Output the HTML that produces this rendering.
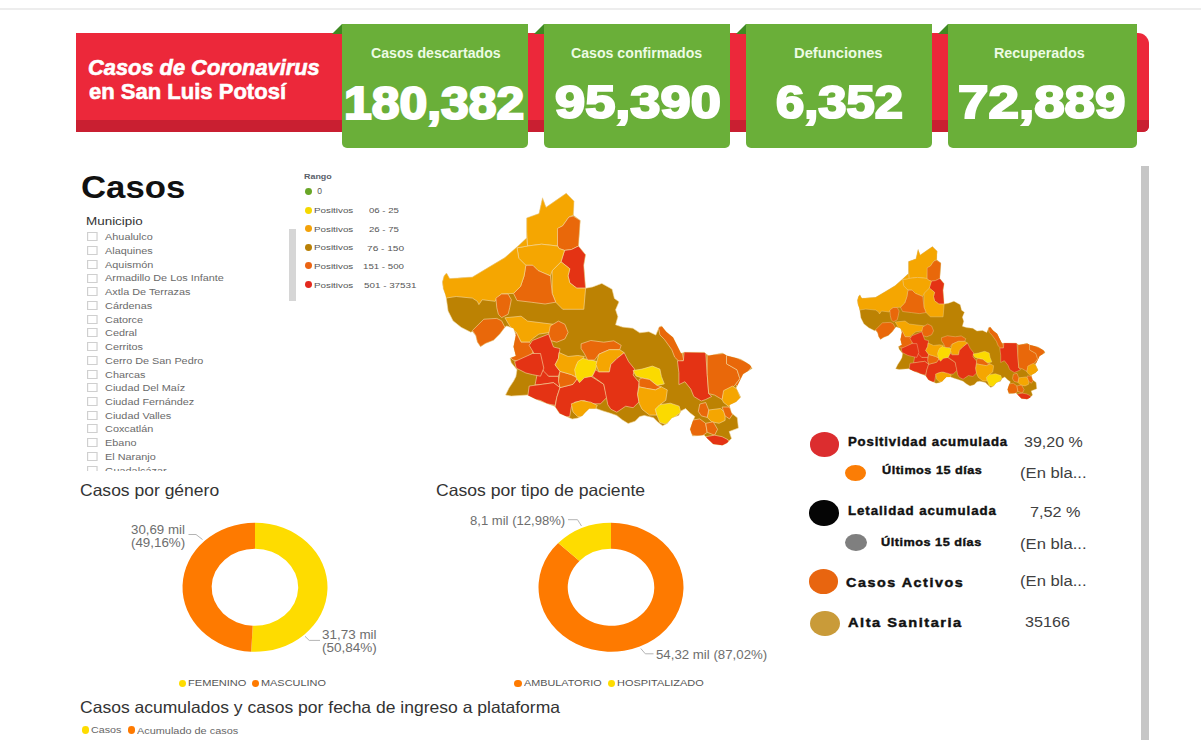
<!DOCTYPE html>
<html><head><meta charset="utf-8">
<style>
*{margin:0;padding:0;box-sizing:border-box}
html,body{width:1201px;height:740px;overflow:hidden;background:#fff;font-family:"Liberation Sans",sans-serif}
.a{position:absolute}
.t{position:absolute;white-space:nowrap;line-height:1;transform-origin:0 0}
#topline{left:0;top:8px;width:1201px;height:2px;background:#ededed}
#banner{left:76px;top:33px;width:1073px;height:99px;background:#ec283a;border-radius:0 11px 6px 0;overflow:hidden}
#banner .stripe{position:absolute;left:0;bottom:0;width:100%;height:12px;background:#c91f31}
.gb{position:absolute;top:24px;height:124px;background:#6aaf39;border-radius:0 0 5px 5px}
.fold{position:absolute;top:24px;width:0;height:0;border-style:solid;border-width:0 0 10px 10px;border-color:transparent transparent #3f8a22 transparent}
#list{position:absolute;left:86.9px;top:229px;width:170px;height:241.5px;overflow:hidden}
#list .in{position:absolute;left:0;top:0;width:170px;height:400px;transform:scaleX(1.180);transform-origin:0 0}
.cb{position:absolute;left:0;width:9px;height:9px;border:1px solid #cfcfcf;background:#fff}
.li{position:absolute;font-size:9.2px;line-height:1;color:#6a6a6a;white-space:nowrap}
.sb1{left:288.5px;top:229px;width:7px;height:72px;background:#d6d6d6}
.sb2{left:1141px;top:166px;width:8px;height:574px;background:#c6c6c6}
.dot{position:absolute;width:7.4px;height:7.2px;border-radius:50%}
.ell{position:absolute;border-radius:50%}
</style></head>
<body>
<div class="a" id="topline"></div>
<div class="a" id="banner"><div class="stripe"></div></div>
<div class="fold" style="left:332px"></div><div class="fold" style="left:534px"></div><div class="fold" style="left:736px"></div><div class="fold" style="left:938px"></div>
<div class="gb" style="left:342px;width:186px"></div><div class="gb" style="left:544px;width:186px"></div><div class="gb" style="left:746px;width:186px"></div><div class="gb" style="left:948px;width:189px"></div>
<div id="list"><div class="in"><div class="cb" style="top:3.40px"></div><div class="li" style="top:4.30px;left:15.34px">Ahualulco</div><div class="cb" style="top:17.12px"></div><div class="li" style="top:18.02px;left:15.34px">Alaquines</div><div class="cb" style="top:30.84px"></div><div class="li" style="top:31.74px;left:15.34px">Aquismón</div><div class="cb" style="top:44.56px"></div><div class="li" style="top:45.46px;left:15.34px">Armadillo De Los Infante</div><div class="cb" style="top:58.28px"></div><div class="li" style="top:59.18px;left:15.34px">Axtla De Terrazas</div><div class="cb" style="top:72.00px"></div><div class="li" style="top:72.90px;left:15.34px">Cárdenas</div><div class="cb" style="top:85.72px"></div><div class="li" style="top:86.62px;left:15.34px">Catorce</div><div class="cb" style="top:99.44px"></div><div class="li" style="top:100.34px;left:15.34px">Cedral</div><div class="cb" style="top:113.16px"></div><div class="li" style="top:114.06px;left:15.34px">Cerritos</div><div class="cb" style="top:126.88px"></div><div class="li" style="top:127.78px;left:15.34px">Cerro De San Pedro</div><div class="cb" style="top:140.60px"></div><div class="li" style="top:141.50px;left:15.34px">Charcas</div><div class="cb" style="top:154.32px"></div><div class="li" style="top:155.22px;left:15.34px">Ciudad Del Maíz</div><div class="cb" style="top:168.04px"></div><div class="li" style="top:168.94px;left:15.34px">Ciudad Fernández</div><div class="cb" style="top:181.76px"></div><div class="li" style="top:182.66px;left:15.34px">Ciudad Valles</div><div class="cb" style="top:195.48px"></div><div class="li" style="top:196.38px;left:15.34px">Coxcatlán</div><div class="cb" style="top:209.20px"></div><div class="li" style="top:210.10px;left:15.34px">Ebano</div><div class="cb" style="top:222.92px"></div><div class="li" style="top:223.82px;left:15.34px">El Naranjo</div><div class="cb" style="top:236.64px"></div><div class="li" style="top:237.54px;left:15.34px">Guadalcázar</div><div class="cb" style="top:250.36px"></div><div class="li" style="top:251.26px;left:15.34px">Huehuetlán</div></div></div>
<div class="a sb1"></div>
<div class="a sb2"></div>
<svg class="a" style="left:0;top:0" width="1201" height="740" viewBox="0 0 1201 740"><defs><clipPath id="mclip"><polygon points="442.4,281.9 444.0,276.0 446.5,273.0 449.7,278.6 472.4,277.0 488.6,267.3 504.9,257.6 517.8,246.2 526.7,237.9 526.7,217.9 539.0,213.5 542.5,197.7 546.0,207.3 566.2,193.3 574.1,201.2 573.3,215.2 580.3,220.5 578.5,246.0 585.6,254.8 583.8,265.3 585.6,288.2 592.6,286.9 601.8,283.4 612.1,289.2 614.4,298.4 619.0,301.8 615.6,309.8 617.9,316.7 615.6,324.8 622.5,327.1 632.8,328.2 639.7,332.8 648.9,331.7 655.8,335.1 659.2,327.1 661.5,325.9 666.1,331.7 673.0,337.4 676.4,344.3 681.0,353.5 684.5,352.3 704.0,352.3 708.6,355.8 722.3,353.0 726.9,355.8 740.7,359.2 749.9,364.9 752.2,368.4 743.0,374.1 738.4,383.3 736.1,387.9 740.7,397.1 736.1,401.7 729.2,405.1 731.5,413.1 737.3,417.7 738.4,428.1 729.2,431.5 731.5,438.4 726.9,443.0 722.3,445.3 713.2,444.1 707.4,438.4 704.0,435.0 692.5,436.1 690.2,429.2 692.5,422.3 694.8,416.6 690.2,413.1 685.6,408.6 681.0,410.9 678.7,415.4 671.8,417.7 667.2,423.5 662.6,425.8 658.0,422.3 653.5,417.7 644.3,415.4 639.7,416.6 635.1,421.2 628.2,423.5 622.5,420.0 616.7,415.4 609.8,413.1 603.0,410.9 596.1,408.6 589.2,408.6 584.6,413.1 582.5,415.6 577.9,418.0 572.2,419.1 559.5,413.3 555.0,406.4 545.7,403.0 536.6,399.5 527.4,395.0 511.3,396.1 505.5,395.0 509.0,388.0 513.6,381.1 515.9,376.6 517.0,369.7 511.3,362.8 510.1,358.2 515.9,355.9 513.6,346.7 515.9,335.2 513.6,328.3 506.7,326.0 504.9,327.3 500.0,333.8 493.5,340.3 485.4,343.5 480.5,346.7 477.3,341.9 475.7,335.4 472.4,331.5 470.8,332.2 461.1,327.3 453.0,320.8 448.1,311.0 446.5,299.7 445.7,294.9 443.2,288.4"/></clipPath><g id="map">
<polygon points="442.4,281.9 444.0,276.0 446.5,273.0 449.7,278.6 472.4,277.0 488.6,267.3 504.9,257.6 517.8,246.2 526.7,237.9 526.7,217.9 539.0,213.5 542.5,197.7 546.0,207.3 566.2,193.3 574.1,201.2 573.3,215.2 580.3,220.5 578.5,246.0 585.6,254.8 583.8,265.3 585.6,288.2 592.6,286.9 601.8,283.4 612.1,289.2 614.4,298.4 619.0,301.8 615.6,309.8 617.9,316.7 615.6,324.8 622.5,327.1 632.8,328.2 639.7,332.8 648.9,331.7 655.8,335.1 659.2,327.1 661.5,325.9 666.1,331.7 673.0,337.4 676.4,344.3 681.0,353.5 684.5,352.3 704.0,352.3 708.6,355.8 722.3,353.0 726.9,355.8 740.7,359.2 749.9,364.9 752.2,368.4 743.0,374.1 738.4,383.3 736.1,387.9 740.7,397.1 736.1,401.7 729.2,405.1 731.5,413.1 737.3,417.7 738.4,428.1 729.2,431.5 731.5,438.4 726.9,443.0 722.3,445.3 713.2,444.1 707.4,438.4 704.0,435.0 692.5,436.1 690.2,429.2 692.5,422.3 694.8,416.6 690.2,413.1 685.6,408.6 681.0,410.9 678.7,415.4 671.8,417.7 667.2,423.5 662.6,425.8 658.0,422.3 653.5,417.7 644.3,415.4 639.7,416.6 635.1,421.2 628.2,423.5 622.5,420.0 616.7,415.4 609.8,413.1 603.0,410.9 596.1,408.6 589.2,408.6 584.6,413.1 582.5,415.6 577.9,418.0 572.2,419.1 559.5,413.3 555.0,406.4 545.7,403.0 536.6,399.5 527.4,395.0 511.3,396.1 505.5,395.0 509.0,388.0 513.6,381.1 515.9,376.6 517.0,369.7 511.3,362.8 510.1,358.2 515.9,355.9 513.6,346.7 515.9,335.2 513.6,328.3 506.7,326.0 504.9,327.3 500.0,333.8 493.5,340.3 485.4,343.5 480.5,346.7 477.3,341.9 475.7,335.4 472.4,331.5 470.8,332.2 461.1,327.3 453.0,320.8 448.1,311.0 446.5,299.7 445.7,294.9 443.2,288.4" fill="#bc8203" stroke="#f3d9a0" stroke-width="0.6"/>
<g clip-path="url(#mclip)" stroke="#f6dca6" stroke-width="0.6" stroke-linejoin="round">
<polygon points="537.0,375.0 540.5,367.0 544.0,368.5 548.6,376.2 558.4,376.2 560.0,387.6 553.5,382.7 542.2,384.3 535.0,385.0" fill="#e43314"/>
<polygon points="526.7,217.9 539.0,213.5 542.5,197.7 546.0,207.3 566.2,193.3 574.1,201.2 573.3,215.2 568.9,217.0 562.7,225.8 558.3,228.4 557.5,246.0 541.6,244.2 527.6,246.0 526.7,231.9" fill="#f5a601"/>
<polygon points="557.5,228.4 562.7,225.8 568.9,217.0 573.3,216.1 580.3,220.5 578.5,246.0 571.5,249.5 564.5,250.4 559.2,248.6 557.5,246.0" fill="#e9680a"/>
<polygon points="561.0,261.8 564.5,250.4 571.5,249.5 578.5,246.0 585.6,254.8 583.8,265.3 585.6,288.2 576.8,288.2 569.8,282.9 568.0,275.9 569.8,268.8" fill="#e43314"/>
<polygon points="552.2,270.6 561.0,261.8 569.8,268.8 568.0,275.9 569.8,282.9 576.8,288.2 585.6,288.2 583.8,309.3 562.7,309.3 555.7,302.2 552.2,293.4" fill="#f5a601"/>
<polygon points="517.0,247.8 527.6,246.0 541.6,244.2 557.5,246.0 559.2,248.6 564.5,250.4 561.0,261.8 552.2,270.6 550.4,275.9 538.1,270.6 532.8,265.3 525.8,265.3 518.8,258.3" fill="#f5a601"/>
<polygon points="525.8,265.3 532.8,265.3 538.1,270.6 550.4,275.9 552.2,293.4 555.7,302.2 545.1,304.0 531.1,302.2 517.0,300.5 513.5,293.4 520.5,286.4 524.1,275.9" fill="#e9680a"/>
<polygon points="442.4,281.9 444.0,276.0 446.5,273.0 449.7,278.6 472.4,277.0 488.6,267.3 504.9,257.6 517.8,246.2 526.7,237.9 527.6,246.0 517.0,247.8 518.8,258.3 525.8,265.3 524.1,275.9 520.5,286.4 513.5,293.4 501.6,294.0 496.8,298.1 495.1,301.3 482.2,299.7 478.9,304.6 477.3,301.3 472.4,298.1 456.2,296.5 445.7,298.1 443.2,288.4" fill="#f5a601"/>
<polygon points="495.9,298.1 501.6,294.0 508.1,294.0 511.3,299.7 509.7,307.8 508.1,314.3 501.6,317.6 498.4,314.3 496.8,307.8" fill="#e9680a"/>
<polygon points="472.4,330.5 483.8,319.2 496.8,318.4 501.6,320.8 504.9,327.3 500.0,333.8 493.5,340.3 485.4,343.5 480.5,346.7 477.3,341.9 475.7,335.4" fill="#e9680a"/>
<polygon points="504.9,317.8 521.1,316.2 527.6,321.1 553.5,324.3 550.3,332.4 538.9,334.1 532.4,338.9 529.2,342.2 521.1,342.2 516.2,332.4 509.7,325.9" fill="#f5a601"/>
<polygon points="550.3,325.9 558.4,321.1 564.9,324.3 568.1,332.4 564.9,338.9 556.8,342.2 550.3,340.5 548.6,334.1" fill="#e9680a"/>
<polygon points="516.2,332.4 521.1,342.2 529.2,342.2 534.1,347.0 532.4,353.5 519.5,361.6 513.0,360.0 509.7,356.8 513.0,348.6 511.4,340.5" fill="#e9680a"/>
<polygon points="532.4,340.5 548.6,334.1 553.5,347.0 560.0,348.6 558.4,358.4 555.1,364.9 560.0,371.3 558.4,376.2 548.6,376.2 543.8,371.3 540.5,366.5 532.4,364.9 534.1,353.5 529.2,345.4" fill="#e43314"/>
<polygon points="514.6,361.6 532.4,353.5 540.5,353.5 543.8,368.1 540.5,376.2 532.4,374.6 525.9,373.0 516.2,368.1" fill="#e43314"/>
<polygon points="529.2,386.0 542.2,384.3 553.5,382.7 560.0,387.6 556.8,397.3 555.1,405.4 547.0,403.8 540.5,400.5 532.4,398.9 527.6,397.3" fill="#e43314"/>
<polygon points="560.0,387.6 573.0,384.3 577.8,377.8 590.8,376.2 603.8,384.3 607.0,397.3 600.5,403.8 590.8,403.8 584.3,400.5 574.6,402.2 571.3,407.0 569.7,416.7 561.6,416.7 555.1,407.0 556.8,397.3" fill="#e43314"/>
<polygon points="560.0,371.3 571.3,374.6 577.8,377.8 573.0,384.3 560.0,387.6 558.4,381.1" fill="#e9680a"/>
<polygon points="559.0,352.5 568.1,356.5 577.8,355.5 584.3,356.5 581.1,361.6 576.2,364.9 577.8,377.8 571.3,374.6 560.0,371.3 555.1,364.9 558.4,358.4" fill="#f5a601"/>
<polygon points="577.8,361.6 582.7,358.4 590.8,360.0 597.3,361.6 595.7,369.7 592.4,376.2 584.3,377.8 579.5,382.7 576.2,377.8 574.6,369.7" fill="#fbda00"/>
<polygon points="581.1,343.8 590.8,340.5 603.8,342.2 613.8,340.8 621.2,345.3 619.7,349.7 609.3,349.7 598.9,354.2 594.5,360.1 590.8,360.0 587.6,360.0 584.3,353.5 581.1,348.6" fill="#e9680a"/>
<polygon points="598.9,354.2 609.3,349.7 619.7,349.7 624.2,352.7 616.8,358.6 610.8,364.6 609.3,372.0 598.9,372.0 596.0,364.6" fill="#f5a601"/>
<polygon points="610.8,364.6 616.8,358.6 624.2,352.7 628.6,361.6 634.6,369.1 633.1,375.0 639.1,382.4 637.6,394.3 639.1,401.8 633.1,407.7 625.7,406.2 616.8,412.2 610.8,409.2 607.8,404.7 603.8,384.3 592.4,376.2 595.7,369.7 598.9,372.0 609.3,372.0" fill="#e43314"/>
<polygon points="571.3,403.8 581.1,400.5 590.8,402.2 597.3,405.4 594.1,411.9 584.3,416.7 577.8,416.7 573.0,411.9" fill="#f5a601"/>
<polygon points="633.1,370.5 642.0,369.1 652.4,366.1 659.9,369.1 661.4,376.5 664.3,383.9 656.9,385.4 649.5,379.5 642.0,378.0 636.0,376.0" fill="#fbda00"/>
<polygon points="639.1,379.5 642.0,378.0 649.5,379.5 656.9,385.4 661.4,386.9 655.4,389.9 646.5,388.4 639.1,386.9" fill="#e9680a"/>
<polygon points="639.1,386.9 646.5,388.4 655.4,389.9 661.4,386.9 667.3,389.9 665.8,400.3 659.9,404.7 655.4,409.2 656.9,415.1 649.5,415.1 642.0,409.2 639.1,403.2 637.6,394.3" fill="#f5a601"/>
<polygon points="659.9,404.7 670.3,403.2 679.2,406.2 680.7,412.2 673.2,418.1 665.8,424.1 659.9,422.6 656.9,415.1 655.4,409.2" fill="#fbda00"/>
<polygon points="658.4,327.4 662.8,325.9 667.3,331.9 673.2,336.4 677.7,343.8 682.2,352.7 683.7,360.1 679.2,361.6 674.7,357.2 671.8,349.7 664.3,339.3 659.9,334.9" fill="#e9680a"/>
<polygon points="677.4,360.8 683.4,360.8 684.1,351.9 705.7,352.6 707.2,374.2 708.7,393.6 711.7,396.5 705.7,399.5 701.3,401.0 693.8,396.5 690.8,389.1 684.9,381.7 678.9,384.6 678.9,372.7" fill="#e43314"/>
<polygon points="707.2,354.9 725.1,353.4 726.5,354.9 726.5,363.8 737.0,369.8 739.9,378.7 735.5,384.6 731.0,389.1 723.6,393.6 722.1,399.5 714.6,395.1 708.7,393.6 707.2,374.2" fill="#e9680a"/>
<polygon points="726.5,354.9 732.5,355.6 739.9,359.3 747.4,362.3 751.8,366.8 745.9,374.2 742.9,381.7 737.0,386.1 735.5,384.6 739.9,378.7 737.0,369.8 726.5,363.8" fill="#e9680a"/>
<polygon points="723.6,390.6 732.5,386.1 737.0,389.1 739.9,396.5 741.4,399.5 735.5,405.5 729.5,407.0 723.6,402.5 722.1,399.5" fill="#f5a601"/>
<polygon points="708.7,410.0 720.6,408.5 725.1,412.9 725.1,420.4 719.1,423.3 711.7,421.8 707.2,417.4" fill="#f5a601"/>
<polygon points="699.8,404.0 705.7,402.5 708.7,410.0 707.2,417.4 701.3,415.9 698.3,411.4" fill="#e9680a"/>
<polygon points="722.1,407.0 729.5,407.0 732.5,414.4 729.5,418.9 725.1,415.9" fill="#e9680a"/>
<polygon points="690.8,420.4 699.8,418.9 705.7,423.3 707.2,432.3 701.3,436.7 692.3,435.2 689.3,430.8" fill="#e9680a"/>
<polygon points="705.7,423.3 713.2,421.8 717.6,429.3 714.6,435.2 707.2,432.3" fill="#e9680a"/>
<polygon points="705.7,436.7 714.6,435.2 722.1,436.7 728.0,439.7 729.5,444.2 722.1,445.7 713.2,444.9 708.7,442.7" fill="#e43314"/>
</g></g></defs><use href="#map"/><use href="#map" transform="translate(589.3,129.4) scale(0.606)"/></svg>
<svg class="a" style="left:0;top:0" width="1201" height="740" viewBox="0 0 1201 740">
<g transform="translate(255,587.3) scale(1.1240,1)"><path d="M0.00 -64.50A64.5 64.5 0 1 1 -3.40 64.41L-2.03 38.45A38.5 38.5 0 1 0 0.00 -38.50Z" fill="#fedc00"/><path d="M-3.40 64.41A64.5 64.5 0 0 1 -0.00 -64.50L-0.00 -38.50A38.5 38.5 0 0 0 -2.03 38.45Z" fill="#fe7a00"/></g>
<g transform="translate(611,587.3) scale(1.1240,1)"><path d="M0.00 -64.50A64.5 64.5 0 1 1 -46.96 -44.21L-28.03 -26.39A38.5 38.5 0 1 0 0.00 -38.50Z" fill="#fe7a00"/><path d="M-46.96 -44.21A64.5 64.5 0 0 1 -0.00 -64.50L-0.00 -38.50A38.5 38.5 0 0 0 -28.03 -26.39Z" fill="#fedc00"/></g>
<g fill="none" stroke="#b4b4b4" stroke-width="1">
<polyline points="188.5,534.5 196,534.5 202.5,539.5"/>
<polyline points="305,636.3 309.2,640.4 320,640.4"/>
<polyline points="568,519.7 577.5,519.7 581.5,526"/>
<polyline points="640.8,648.5 645.3,653.8 653.5,653.8"/>
</g></svg>
<div class="ell" style="left:809.6px;top:432.0px;width:29.5px;height:24.6px;background:#dc2d2f"></div><div class="ell" style="left:845.0px;top:464.5px;width:20.9px;height:16.1px;background:#fb7d05"></div><div class="ell" style="left:809.3px;top:500.2px;width:29.6px;height:25.5px;background:#050505"></div><div class="ell" style="left:844.8px;top:533.5px;width:22.2px;height:17.3px;background:#7f7f7f"></div><div class="ell" style="left:808.7px;top:568.7px;width:29.3px;height:25.0px;background:#e8650f"></div><div class="ell" style="left:810.0px;top:611.2px;width:29.5px;height:25.0px;background:#c99b39"></div>
<div class="dot" style="left:179.1px;top:680.0px;background:#fedc00"></div><div class="dot" style="left:251.9px;top:680.0px;background:#fe7a00"></div><div class="dot" style="left:514.3px;top:679.8px;background:#fe7a00"></div><div class="dot" style="left:608.1px;top:679.8px;background:#fedc00"></div><div class="dot" style="left:81.6px;top:726.4px;background:#fedc00"></div><div class="dot" style="left:128.0px;top:726.4px;background:#fe7a00"></div><div class="dot" style="left:305.1px;top:188.0px;background:#69a627"></div><div class="dot" style="left:305.1px;top:206.5px;background:#f5d800"></div><div class="dot" style="left:305.1px;top:225.1px;background:#f3a20a"></div><div class="dot" style="left:305.1px;top:243.9px;background:#b88007"></div><div class="dot" style="left:305.1px;top:262.2px;background:#eb6413"></div><div class="dot" style="left:305.1px;top:281.3px;background:#e3291e"></div>
<div class="t" style="left:88.41px;top:57.10px;color:#fff;font-weight:bold;font-style:italic;font-size:22px;-webkit-text-stroke-width:0.6px;transform:scaleX(0.9922)">Casos de Coronavirus</div>
<div class="t" style="left:89.10px;top:80.70px;color:#fff;font-weight:bold;font-size:22px;-webkit-text-stroke-width:0.6px;transform:scaleX(1.0010)">en San Luis Potosí</div>
<div class="t" style="left:371.49px;top:46.00px;color:#edfbe4;font-weight:bold;font-size:14px;transform:scaleX(1.0102)">Casos descartados</div>
<div class="t" style="left:570.69px;top:46.00px;color:#edfbe4;font-weight:bold;font-size:14px;transform:scaleX(1.0101)">Casos confirmados</div>
<div class="t" style="left:793.95px;top:46.00px;color:#edfbe4;font-weight:bold;font-size:14px;transform:scaleX(1.0542)">Defunciones</div>
<div class="t" style="left:993.58px;top:46.00px;color:#edfbe4;font-weight:bold;font-size:14px;transform:scaleX(1.0218)">Recuperados</div>
<div class="t" style="left:344.23px;top:80.30px;color:#fff;font-weight:bold;font-size:46px;-webkit-text-stroke-width:2.2px;transform:scaleX(1.0841)">180,382</div>
<div class="t" style="left:555.00px;top:79.20px;color:#fff;font-weight:bold;font-size:46px;-webkit-text-stroke-width:2.2px;transform:scaleX(1.1786)">95,390</div>
<div class="t" style="left:775.50px;top:79.40px;color:#fff;font-weight:bold;font-size:46px;-webkit-text-stroke-width:2.2px;transform:scaleX(1.1035)">6,352</div>
<div class="t" style="left:958.31px;top:79.20px;color:#fff;font-weight:bold;font-size:46px;-webkit-text-stroke-width:2.2px;transform:scaleX(1.1906)">72,889</div>
<div class="t" style="left:80.81px;top:171.30px;color:#111;font-weight:bold;font-size:32px;transform:scaleX(1.0862)">Casos</div>
<div class="t" style="left:86.11px;top:216.30px;color:#333;font-size:11.3px;transform:scaleX(1.1891)">Municipio</div>
<div class="t" style="left:304.20px;top:173.40px;color:#59606a;font-weight:bold;font-size:8px;transform:scaleX(1.1160)">Rango</div>
<div class="t" style="left:80.44px;top:482.00px;color:#333;font-size:16.5px;transform:scaleX(1.0608)">Casos por género</div>
<div class="t" style="left:435.73px;top:482.00px;color:#333;font-size:16.5px;transform:scaleX(1.0651)">Casos por tipo de paciente</div>
<div class="t" style="left:80.14px;top:698.50px;color:#333;font-size:16.5px;transform:scaleX(1.0616)">Casos acumulados y casos por fecha de ingreso a plataforma</div>
<div class="t" style="left:130.89px;top:523.50px;color:#6e6e6e;font-size:12px;transform:scaleX(1.1064)">30,69 mil</div>
<div class="t" style="left:130.89px;top:536.50px;color:#6e6e6e;font-size:12px;transform:scaleX(1.1128)">(49,16%)</div>
<div class="t" style="left:322.18px;top:628.80px;color:#6e6e6e;font-size:12px;transform:scaleX(1.1213)">31,73 mil</div>
<div class="t" style="left:322.17px;top:642.30px;color:#6e6e6e;font-size:12px;transform:scaleX(1.1255)">(50,84%)</div>
<div class="t" style="left:470.40px;top:514.50px;color:#6e6e6e;font-size:12px;transform:scaleX(1.0897)">8,1 mil (12,98%)</div>
<div class="t" style="left:655.90px;top:648.80px;color:#6e6e6e;font-size:12px;transform:scaleX(1.1040)">54,32 mil (87,02%)</div>
<div class="t" style="left:187.94px;top:677.60px;color:#555;font-size:9.6px;transform:scaleX(1.1551)">FEMENINO</div>
<div class="t" style="left:260.86px;top:677.60px;color:#555;font-size:9.6px;transform:scaleX(1.1375)">MASCULINO</div>
<div class="t" style="left:523.90px;top:677.60px;color:#555;font-size:9.6px;transform:scaleX(1.1261)">AMBULATORIO</div>
<div class="t" style="left:616.86px;top:677.60px;color:#555;font-size:9.6px;transform:scaleX(1.1400)">HOSPITALIZADO</div>
<div class="t" style="left:91.40px;top:725.60px;color:#666;font-size:9px;transform:scaleX(1.1920)">Casos</div>
<div class="t" style="left:137.40px;top:726.60px;color:#666;font-size:9px;transform:scaleX(1.2108)">Acumulado de casos</div>
<div class="t" style="left:848.20px;top:435.70px;color:#111;font-weight:bold;font-size:12.2px;letter-spacing:0.75px;-webkit-text-stroke-width:0.4px;transform:scaleX(1.0824)">Positividad acumulada</div>
<div class="t" style="left:881.80px;top:465.00px;color:#111;font-weight:bold;font-size:11.5px;letter-spacing:0.46px;-webkit-text-stroke-width:0.4px;transform:scaleX(1.0989)">Últimos 15 días</div>
<div class="t" style="left:848.20px;top:505.00px;color:#111;font-weight:bold;font-size:12.2px;letter-spacing:0.85px;-webkit-text-stroke-width:0.4px;transform:scaleX(1.0890)">Letalidad acumulada</div>
<div class="t" style="left:880.70px;top:536.90px;color:#111;font-weight:bold;font-size:11.5px;letter-spacing:0.46px;-webkit-text-stroke-width:0.4px;transform:scaleX(1.1033)">Últimos 15 días</div>
<div class="t" style="left:846.20px;top:576.00px;color:#111;font-weight:bold;font-size:13px;letter-spacing:1.4px;-webkit-text-stroke-width:0.45px;transform:scaleX(1.1019)">Casos Activos</div>
<div class="t" style="left:848.00px;top:616.00px;color:#111;font-weight:bold;font-size:13.3px;letter-spacing:1.38px;-webkit-text-stroke-width:0.45px;transform:scaleX(1.1000)">Alta Sanitaria</div>
<div class="t" style="left:1024.06px;top:435.30px;color:#404040;font-size:14px;transform:scaleX(1.1440)">39,20 %</div>
<div class="t" style="left:1020.31px;top:465.70px;color:#404040;font-size:14px;transform:scaleX(1.1889)">(En bla...</div>
<div class="t" style="left:1029.54px;top:505.00px;color:#404040;font-size:14px;transform:scaleX(1.1595)">7,52 %</div>
<div class="t" style="left:1020.31px;top:536.70px;color:#404040;font-size:14px;transform:scaleX(1.1889)">(En bla...</div>
<div class="t" style="left:1020.31px;top:574.30px;color:#404040;font-size:14px;transform:scaleX(1.1889)">(En bla...</div>
<div class="t" style="left:1024.55px;top:615.00px;color:#404040;font-size:14px;transform:scaleX(1.1526)">35166</div>
<div class="t" style="left:317.30px;top:186.90px;color:#555;font-size:8.5px;transform:scaleX(1.0000)">0</div>
<div class="t" style="left:313.77px;top:206.90px;color:#555;font-size:8px;transform:scaleX(1.2258)">Positivos</div>
<div class="t" style="left:368.60px;top:207.10px;color:#555;font-size:8px;transform:scaleX(1.2000)">06 - 25</div>
<div class="t" style="left:313.77px;top:225.50px;color:#555;font-size:8px;transform:scaleX(1.2258)">Positivos</div>
<div class="t" style="left:368.60px;top:225.70px;color:#555;font-size:8px;transform:scaleX(1.2000)">26 - 75</div>
<div class="t" style="left:313.77px;top:244.30px;color:#555;font-size:8px;transform:scaleX(1.2258)">Positivos</div>
<div class="t" style="left:367.34px;top:244.50px;color:#555;font-size:8px;transform:scaleX(1.2643)">76 - 150</div>
<div class="t" style="left:313.77px;top:262.60px;color:#555;font-size:8px;transform:scaleX(1.2258)">Positivos</div>
<div class="t" style="left:362.79px;top:262.80px;color:#555;font-size:8px;transform:scaleX(1.2121)">151 - 500</div>
<div class="t" style="left:313.77px;top:281.70px;color:#555;font-size:8px;transform:scaleX(1.2258)">Positivos</div>
<div class="t" style="left:363.90px;top:281.90px;color:#555;font-size:8px;transform:scaleX(1.2286)">501 - 37531</div>
</body></html>
